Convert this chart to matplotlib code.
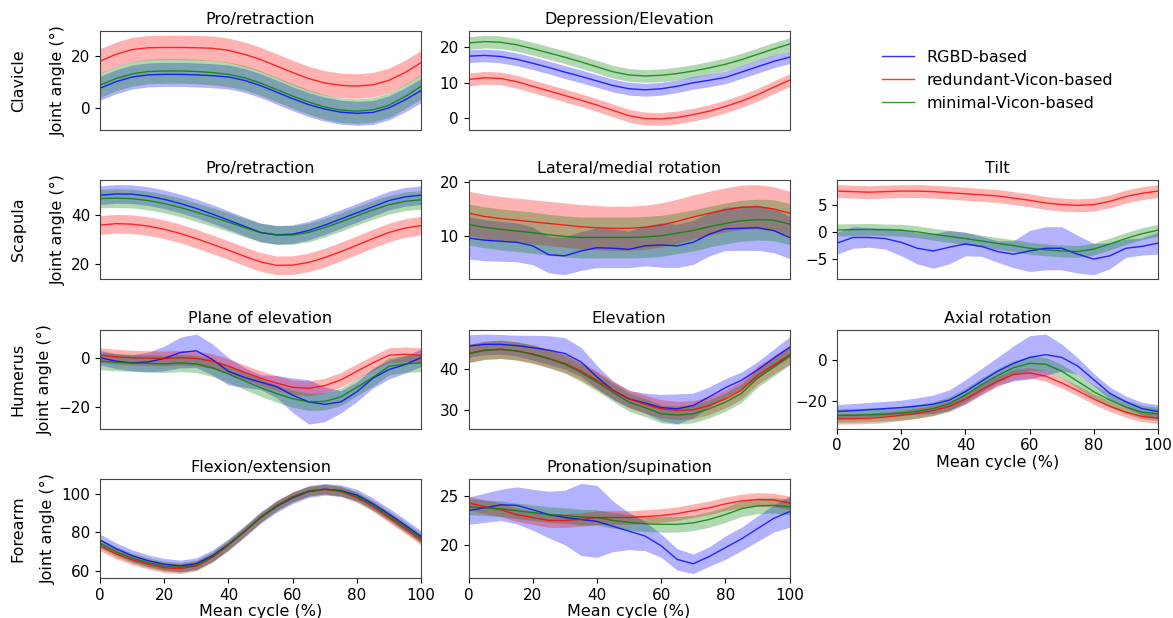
import matplotlib
matplotlib.use("Agg")
import matplotlib.pyplot as plt
import numpy as np

cycle = list(range(0, 101, 5))

# ---- clavicle ----
clav_pro_rgbd = [7.5, 10.0, 11.8, 12.6, 12.8, 12.8, 12.6, 12.3, 11.8, 10.5, 8.5,
                 6.0, 3.5, 1.2, -0.5, -1.7, -2.1, -1.8, 0.0, 3.0, 6.6]
clav_pro_red = [17.9, 20.5, 22.3, 23.0, 23.1, 23.1, 23.0, 22.8, 22.0, 20.5, 18.5,
                16.0, 13.5, 11.2, 9.5, 8.6, 8.3, 8.8, 10.5, 13.5, 17.3]
clav_pro_min = [8.7, 11.2, 13.0, 13.9, 14.1, 14.1, 13.9, 13.5, 12.8, 11.5, 9.5,
                7.0, 4.5, 2.2, 0.3, -0.9, -1.3, -0.8, 1.0, 4.3, 8.2]
clav_pro_sd = [4.6, 4.7, 4.7]

clav_dep_rgbd = [17.5, 17.7, 17.4, 16.6, 15.5, 14.3, 13.0, 11.8, 10.5, 9.2, 8.3,
                 8.0, 8.3, 9.0, 10.0, 10.7, 11.5, 13.0, 14.5, 16.0, 17.2]
clav_dep_red = [10.9, 11.4, 11.2, 10.3, 9.0, 7.7, 6.4, 5.1, 3.7, 2.2, 0.7,
                -0.1, -0.2, 0.2, 1.0, 2.0, 3.3, 4.8, 6.6, 8.7, 10.7]
clav_dep_min = [21.2, 21.6, 21.4, 20.7, 19.6, 18.4, 17.2, 15.9, 14.5, 13.1, 12.2,
                11.9, 12.1, 12.6, 13.3, 14.2, 15.2, 16.5, 18.0, 19.5, 20.9]
clav_dep_sd = [1.8, 1.8, 1.8]

# ---- scapula ----
scap_pro_rgbd = [48.2, 48.7, 48.6, 47.8, 46.5, 44.8, 42.8, 40.5, 38.0, 35.5, 33.0,
                 32.0, 32.3, 33.8, 36.0, 38.5, 41.0, 43.5, 46.0, 47.5, 48.2]
scap_pro_red = [36.0, 36.6, 36.4, 35.6, 34.3, 32.6, 30.5, 28.2, 25.8, 23.3, 21.0,
                19.6, 19.7, 20.8, 22.8, 25.2, 27.8, 30.5, 33.0, 34.8, 35.8]
scap_pro_min = [46.8, 47.0, 46.8, 46.0, 44.8, 43.2, 41.3, 39.3, 37.2, 35.0, 33.0,
                32.0, 32.0, 33.0, 35.0, 37.3, 39.8, 42.2, 44.3, 45.7, 46.3]
scap_pro_sd = [3.8, 3.8, 3.8]

scap_rot_rgbd = [9.7, 9.3, 9.1, 8.9, 8.25, 6.6, 6.4, 7.3, 7.9, 7.8, 7.6,
                 8.25, 8.4, 8.25, 8.9, 10.4, 11.4, 11.5, 11.6, 11.1, 9.8]
scap_rot_rgbd_sd = [3.9, 3.8, 3.7, 3.6, 3.5, 3.35, 3.5, 3.6, 3.7, 3.6, 3.4,
                    3.7, 4.1, 4.0, 4.1, 4.0, 4.0, 4.1, 4.2, 4.1, 3.9]
scap_rot_red = [14.3, 13.7, 13.3, 13.0, 12.7, 12.4, 12.1, 11.8, 11.6, 11.5, 11.5,
                11.7, 12.1, 12.8, 13.6, 14.3, 14.9, 15.4, 15.5, 15.1, 14.3]
scap_rot_min = [12.2, 11.7, 11.3, 11.0, 10.7, 10.3, 10.0, 9.8, 9.8, 9.8, 9.8,
                9.9, 10.1, 10.6, 11.1, 11.8, 12.4, 12.9, 13.1, 13.0, 12.3]
scap_rot_sd = [4.1, 3.8]

scap_tilt_rgbd = [-2.15, -1.1, -1.1, -1.3, -2.0, -3.1, -3.6, -2.9, -2.3, -2.75, -3.7,
                  -4.2, -3.6, -3.1, -3.1, -4.2, -5.1, -4.5, -3.1, -2.75, -2.15]
scap_tilt_rgbd_sd = [2.05, 2.0, 1.8, 1.95, 2.5, 2.9, 3.2, 3.1, 2.2, 1.85, 2.0,
                     2.5, 3.8, 4.0, 4.0, 3.5, 2.9, 2.4, 1.7, 1.6, 2.05]
scap_tilt_red = [7.5, 7.4, 7.3, 7.4, 7.5, 7.5, 7.4, 7.2, 7.0, 6.8, 6.6,
                 6.2, 5.8, 5.3, 5.0, 4.85, 5.0, 5.6, 6.5, 7.1, 7.5]
scap_tilt_min = [0.3, 0.35, 0.4, 0.3, 0.25, -0.05, -0.5, -0.9, -1.3, -1.75, -2.2,
                 -2.6, -3.1, -3.4, -3.6, -3.7, -3.25, -2.3, -1.3, -0.4, 0.25]
scap_tilt_sd = [1.2, 1.1]

# ---- humerus ----
hum_poe_rgbd = [0.0, -1.4, -2.1, -1.7, -0.3, 2.1, 2.8, -0.7, -5.5, -8.0, -9.9,
                -11.7, -15.2, -17.9, -18.9, -17.9, -13.8, -8.3, -4.8, -2.8, 0.0]
hum_poe_rgbd_sd = [3.0, 3.0, 3.2, 4.0, 5.0, 6.2, 6.8, 6.3, 5.5, 4.0, 3.0,
                   4.5, 7.0, 9.0, 7.0, 4.5, 4.0, 4.0, 3.8, 3.5, 3.5]
hum_poe_red = [1.0, 0.4, 0.0, -0.2, -0.3, 0.0, -0.3, -1.4, -3.4, -5.9, -8.3,
               -10.3, -12.0, -12.4, -11.3, -9.0, -5.5, -2.1, 1.0, 1.4, 1.0]
hum_poe_min = [-1.4, -1.8, -2.1, -2.3, -2.5, -2.1, -2.5, -4.1, -6.6, -9.4, -12.1,
               -14.5, -16.6, -17.9, -17.7, -15.9, -12.0, -8.0, -3.5, -2.5, -2.1]
hum_poe_sd = [3.0, 3.5]

hum_ele_rgbd = [45.6, 46.0, 46.0, 45.7, 45.2, 44.6, 43.8, 41.8, 38.1, 34.9, 32.8,
                31.8, 30.7, 30.4, 31.2, 33.3, 35.5, 37.3, 39.8, 42.6, 45.3]
hum_ele_rgbd_sd = [2.7, 2.5, 2.4, 2.5, 3.0, 3.5, 3.8, 3.5, 2.8, 2.2, 2.0,
                   2.4, 3.2, 3.6, 3.0, 2.4, 2.2, 2.0, 2.0, 2.2, 2.5]
hum_ele_red = [43.8, 44.6, 44.8, 44.4, 43.7, 42.6, 41.4, 39.6, 37.3, 34.9, 32.8,
               31.5, 30.4, 30.0, 30.2, 31.2, 32.8, 34.9, 38.5, 41.0, 43.4]
hum_ele_min = [43.8, 44.5, 44.8, 44.4, 43.6, 42.5, 41.2, 39.2, 36.9, 34.4, 32.0,
               30.7, 29.2, 28.9, 29.2, 30.4, 32.0, 34.1, 37.8, 40.5, 43.2]
hum_ele_sd = [2.2, 2.2]

hum_axi_rgbd = [-25.0, -24.6, -24.1, -23.6, -23.1, -22.4, -21.5, -19.5, -15.4, -10.4, -5.5,
                -1.7, 1.2, 2.5, 1.2, -3.0, -9.6, -16.2, -20.3, -23.6, -25.0]
hum_axi_rgbd_sd = [3.3, 3.4, 3.5, 3.5, 3.6, 4.0, 4.5, 5.0, 5.8, 6.2, 6.7,
                   8.5, 10.5, 10.0, 6.5, 4.0, 3.0, 3.0, 2.8, 3.0, 3.3]
hum_axi_red = [-28.6, -28.5, -28.3, -27.7, -26.9, -25.8, -24.5, -22.5, -19.0, -14.5, -10.4,
               -7.1, -6.3, -7.9, -11.2, -14.9, -19.0, -22.5, -25.3, -27.4, -28.3]
hum_axi_min = [-26.9, -26.8, -26.6, -26.3, -25.8, -24.9, -23.6, -21.2, -17.0, -12.1, -7.6,
               -3.8, -1.7, -2.1, -5.5, -10.4, -15.4, -19.5, -22.8, -25.3, -26.1]
hum_axi_sd = [2.5, 3.3]

# ---- forearm ----
fore_flex_rgbd = [76.1, 71.6, 68.0, 65.4, 63.6, 62.7, 63.9, 68.0, 73.8, 80.5, 87.7,
                  93.4, 97.9, 101.1, 102.3, 101.6, 99.3, 94.8, 89.5, 83.8, 77.9]
fore_flex_red = [73.0, 68.9, 65.9, 63.6, 61.8, 61.3, 62.7, 67.1, 73.4, 80.5, 87.7,
                 93.9, 98.4, 101.4, 102.3, 101.1, 98.0, 93.4, 87.7, 82.0, 76.1]
fore_flex_min = [74.3, 70.0, 66.8, 64.4, 62.6, 62.0, 63.2, 67.5, 73.6, 80.5, 87.7,
                 93.7, 98.2, 101.3, 102.4, 101.4, 98.6, 94.0, 88.6, 82.9, 77.0]
fore_flex_sd = [3.0, 2.5, 2.5]

fore_pro_rgbd = [23.5, 23.8, 24.1, 24.05, 23.6, 23.1, 22.8, 22.6, 22.4, 21.9, 21.4,
                 20.9, 19.9, 18.5, 18.05, 18.8, 19.7, 20.6, 21.65, 22.7, 23.4]
fore_pro_rgbd_sd = [1.4, 1.5, 1.6, 1.9, 2.1, 2.4, 2.8, 3.7, 3.7, 2.6, 1.9,
                    1.5, 1.2, 1.1, 1.0, 1.0, 1.2, 1.2, 1.3, 1.4, 1.6]
fore_pro_red = [24.3, 23.9, 23.6, 23.1, 22.8, 22.5, 22.5, 22.6, 22.8, 22.8, 22.8,
                22.9, 23.0, 23.2, 23.5, 23.8, 24.2, 24.5, 24.65, 24.6, 24.3]
fore_pro_min = [23.9, 23.8, 23.7, 23.5, 23.3, 23.1, 23.0, 22.85, 22.8, 22.5, 22.3,
                22.15, 22.1, 22.1, 22.25, 22.6, 23.1, 23.7, 24.0, 24.05, 23.9]
fore_pro_sd = [0.7, 0.8]

labels = ["RGBD-based", "redundant-Vicon-based", "minimal-Vicon-based"]
colors = ["b", "r", "g"]

panels = [
    # row, col, title, rgbd, rgbd sd, redundant, red sd, minimal, min sd, yticks
    (0, 0, "Pro/retraction", clav_pro_rgbd, clav_pro_sd[0], clav_pro_red, clav_pro_sd[1], clav_pro_min, clav_pro_sd[2], [0, 20]),
    (0, 1, "Depression/Elevation", clav_dep_rgbd, clav_dep_sd[0], clav_dep_red, clav_dep_sd[1], clav_dep_min, clav_dep_sd[2], [0, 10, 20]),
    (1, 0, "Pro/retraction", scap_pro_rgbd, scap_pro_sd[0], scap_pro_red, scap_pro_sd[1], scap_pro_min, scap_pro_sd[2], [20, 40]),
    (1, 1, "Lateral/medial rotation", scap_rot_rgbd, scap_rot_rgbd_sd, scap_rot_red, scap_rot_sd[0], scap_rot_min, scap_rot_sd[1], [10, 20]),
    (1, 2, "Tilt", scap_tilt_rgbd, scap_tilt_rgbd_sd, scap_tilt_red, scap_tilt_sd[0], scap_tilt_min, scap_tilt_sd[1], [-5, 0, 5]),
    (2, 0, "Plane of elevation", hum_poe_rgbd, hum_poe_rgbd_sd, hum_poe_red, hum_poe_sd[0], hum_poe_min, hum_poe_sd[1], [-20, 0]),
    (2, 1, "Elevation", hum_ele_rgbd, hum_ele_rgbd_sd, hum_ele_red, hum_ele_sd[0], hum_ele_min, hum_ele_sd[1], [30, 40]),
    (2, 2, "Axial rotation", hum_axi_rgbd, hum_axi_rgbd_sd, hum_axi_red, hum_axi_sd[0], hum_axi_min, hum_axi_sd[1], [-20, 0]),
    (3, 0, "Flexion/extension", fore_flex_rgbd, fore_flex_sd[0], fore_flex_red, fore_flex_sd[1], fore_flex_min, fore_flex_sd[2], [60, 80, 100]),
    (3, 1, "Pronation/supination", fore_pro_rgbd, fore_pro_rgbd_sd, fore_pro_red, fore_pro_sd[0], fore_pro_min, fore_pro_sd[1], [20, 25]),
]
row_names = ["Clavicle", "Scapula", "Humerus", "Forearm"]
bottom_row = {0: 3, 1: 3, 2: 2}

fig, axes = plt.subplots(4, 3, figsize=(11.73, 6.18), dpi=100)
fig.subplots_adjust(left=0.0853, right=0.9872, top=0.9503, bottom=0.0647,
                    wspace=0.148, hspace=0.508)

x = np.array(cycle)
for row, col, title, *series, yt in panels:
    ax = axes[row, col]
    for i in range(3):
        m = np.array(series[2 * i])
        sd = np.array(series[2 * i + 1])
        ax.fill_between(x, m - sd, m + sd, color=colors[i], alpha=0.3, lw=0)
        ax.plot(x, m, color=colors[i], lw=1, alpha=0.8, label=labels[i])
    ax.set_title(title, fontsize=11.5, pad=5)
    ax.set_xlim(0, 100)
    ax.set_yticks(yt)
    if bottom_row[col] == row:
        ax.set_xticks([0, 20, 40, 60, 80, 100])
        ax.set_xlabel("Mean cycle (%)", fontsize=11.5, labelpad=1)
    else:
        ax.set_xticks([])
    if col == 0:
        ax.set_ylabel("Joint angle (°)", fontsize=11.5)
    ax.tick_params(labelsize=11)
    for s in ax.spines.values():
        s.set_color("#444444")

for r, name in enumerate(row_names):
    pos = axes[r, 0].get_position()
    fig.text(0.0155, (pos.y0 + pos.y1) / 2, name, rotation=90, fontsize=11.5,
             ha="center", va="center")

axes[0, 2].axis("off")
axes[3, 2].axis("off")
h, l = axes[0, 0].get_legend_handles_labels()
axes[0, 2].legend(h, l, loc="center", frameon=False, fontsize=11.5)

fig.savefig("out.png", dpi=100)
